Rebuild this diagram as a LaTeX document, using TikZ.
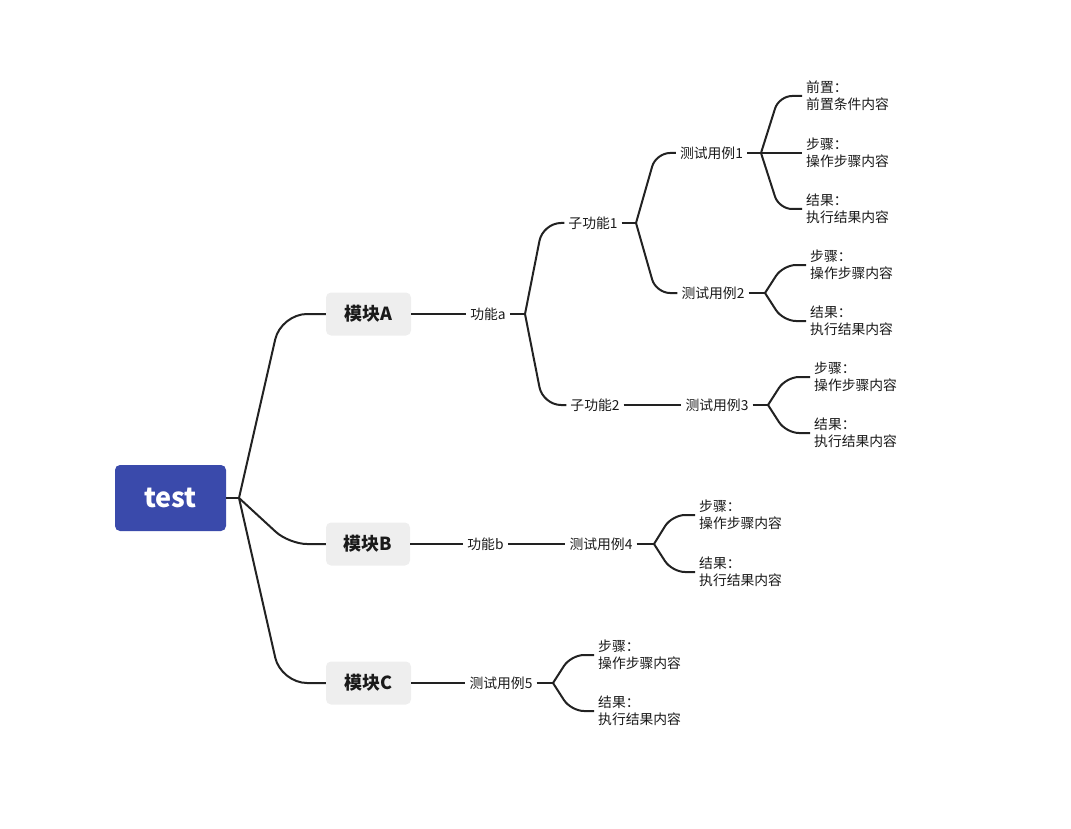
\documentclass[tikz,border=0pt]{standalone}
\usepackage{fontspec}
\setmainfont{Noto Sans CJK SC}
\definecolor{rootblue}{HTML}{3A4AAB}
\definecolor{modgray}{HTML}{EEEEEE}
\definecolor{linec}{HTML}{222222}
\definecolor{txtc}{HTML}{1A1A1A}
\begin{document}
\begin{tikzpicture}[x=1pt,y=-1pt,
  conn/.style={draw=linec, line width=2pt},
  rootbox/.style={fill=rootblue, rounded corners=5pt, minimum width=111pt, minimum height=66pt, text=white, font=\fontsize{27}{30}\selectfont\bfseries, inner sep=0pt},
  modbox/.style={fill=modgray, rounded corners=5pt, minimum width=85pt, minimum height=43pt, text=txtc, font=\fontsize{18}{20}\selectfont\bfseries, inner sep=0pt},
  lbl/.style={font=\fontsize{13.8}{17}\selectfont, inner xsep=4pt, inner ysep=1pt, text=txtc},
  leaf/.style={lbl, align=left, anchor=west},
  rc/.style={rounded corners=#1}
]
\useasboundingbox (0,0) rectangle (1071,829);

% root and modules
\node[rootbox] (root) at (170.5,498) {test};
\node[modbox] (mA) at (368.5,314) {模块A};
\node[modbox, minimum width=84pt] (mB) at (368,544) {模块B};
\node[modbox] (mC) at (368.5,683) {模块C};

\coordinate (j0) at (239,498);
\draw[conn] (root.east) -- (j0);
\draw[conn, rc=26pt] (j0) -- (281,314) -- (mA.west);
\draw[conn, rc=18pt] (j0) -- (289,544) -- (mB.west);
\draw[conn, rc=26pt] (j0) -- (281,683) -- (mC.west);

% Module A branch
\node[lbl] (fa) at (488,314) {功能a};
\draw[conn] (mA.east) -- (fa.west);
\coordinate (j1) at (525,314);
\draw[conn] (fa.east) -- (j1);

\node[lbl] (sf1) at (593,223) {子功能1};
\node[lbl] (sf2) at (595,405) {子功能2};
\draw[conn, rc=18pt] (j1) -- (543,223) -- (sf1.west);
\draw[conn, rc=18pt] (j1) -- (543,405) -- (sf2.west);

\coordinate (j2) at (636,223);
\draw[conn] (sf1.east) -- (j2);
\node[lbl] (tc1) at (711.5,153) {测试用例1};
\node[lbl] (tc2) at (713,293) {测试用例2};
\draw[conn, rc=14pt] (j2) -- (656,153) -- (tc1.west);
\draw[conn, rc=14pt] (j2) -- (656,293) -- (tc2.west);

% test case 1 leaves
\coordinate (j3) at (761,153);
\draw[conn] (tc1.east) -- (j3);
\node[leaf] (l11) at (802,96) {前置：\\前置条件内容};
\node[leaf] (l12) at (802,153) {步骤：\\操作步骤内容};
\node[leaf] (l13) at (802,209) {结果：\\执行结果内容};
\draw[conn, rc=13pt] (j3) -- (779,96) -- (l11.west);
\draw[conn] (j3) -- (l12.west);
\draw[conn, rc=13pt] (j3) -- (779,209) -- (l13.west);

% test case 2 leaves
\coordinate (j4) at (765,293);
\draw[conn] (tc2.east) -- (j4);
\node[leaf] (l21) at (806,265) {步骤：\\操作步骤内容};
\node[leaf] (l22) at (806,321) {结果：\\执行结果内容};
\draw[conn, rc=13pt] (j4) -- (783,265) -- (l21.west);
\draw[conn, rc=13pt] (j4) -- (783,321) -- (l22.west);

% sub function 2 / test case 3
\node[lbl] (tc3) at (717,405) {测试用例3};
\draw[conn] (sf2.east) -- (tc3.west);
\coordinate (j5) at (768,405);
\draw[conn] (tc3.east) -- (j5);
\node[leaf] (l31) at (810,377) {步骤：\\操作步骤内容};
\node[leaf] (l32) at (810,433) {结果：\\执行结果内容};
\draw[conn, rc=13pt] (j5) -- (786,377) -- (l31.west);
\draw[conn, rc=13pt] (j5) -- (786,433) -- (l32.west);

% Module B branch
\node[lbl] (fb) at (485.5,544) {功能b};
\draw[conn] (mB.east) -- (fb.west);
\node[lbl] (tc4) at (601,544) {测试用例4};
\draw[conn] (fb.east) -- (tc4.west);
\coordinate (j6) at (654,544);
\draw[conn] (tc4.east) -- (j6);
\node[leaf] (l41) at (695,515) {步骤：\\操作步骤内容};
\node[leaf] (l42) at (695,572) {结果：\\执行结果内容};
\draw[conn, rc=13pt] (j6) -- (672,515) -- (l41.west);
\draw[conn, rc=13pt] (j6) -- (672,572) -- (l42.west);

% Module C branch
\node[lbl] (tc5) at (501,683) {测试用例5};
\draw[conn] (mC.east) -- (tc5.west);
\coordinate (j7) at (553,683);
\draw[conn] (tc5.east) -- (j7);
\node[leaf] (l51) at (594,655) {步骤：\\操作步骤内容};
\node[leaf] (l52) at (594,711) {结果：\\执行结果内容};
\draw[conn, rc=13pt] (j7) -- (571,655) -- (l51.west);
\draw[conn, rc=13pt] (j7) -- (571,711) -- (l52.west);
\end{tikzpicture}
\end{document}
